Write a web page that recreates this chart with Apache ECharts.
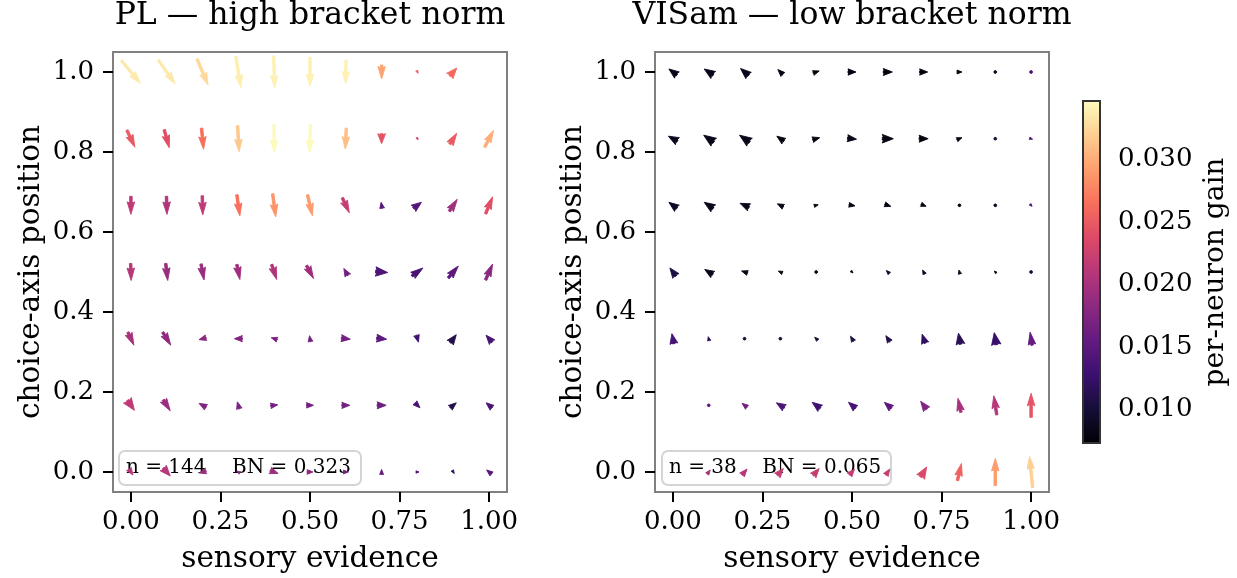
<!DOCTYPE html>
<html>
<head>
<meta charset="utf-8">
<script src="https://cdn.jsdelivr.net/npm/echarts@6/dist/echarts.min.js"></script>
<style>html,body{margin:0;padding:0;background:#fff}#c{width:1237px;height:578px}</style>
</head>
<body>
<div id="c"></div>
<script>
// ---------------- data ----------------
const sensoryEvidence = [0, 0.1, 0.2, 0.3, 0.4, 0.5, 0.6, 0.7, 0.8, 0.9, 1.0];
// rows listed top to bottom
const choicePosition = [1.0, 0.8333, 0.6667, 0.5, 0.3333, 0.1667, 0.0];

const xTicks = [0, 0.25, 0.5, 0.75, 1.0];
const yTicks = [0, 0.2, 0.4, 0.6, 0.8, 1.0];
const gainTicks = [0.010, 0.015, 0.020, 0.025, 0.030];
const gainMin = 0.0073, gainMax = 0.0347;

const panelTitles = ['PL — high bracket norm', 'VISam — low bracket norm'];
const panelN = [144, 38];
const panelBN = ['0.323', '0.065'];

// PL panel: vector components (u right, v up) and per-neuron gain
const plU = [
  [19, 17, 11, 5, 1, 0, -0.5, 0, 1.5, 7, null],
  [8, 5, 2, 1.5, 0, -1, -1, 0, 1.5, 7, 9],
  [0, 0.5, 0.5, 3, 3, 5, 7, -1, 8, 8, 7],
  [0.5, 2, 3, 3, 5, 7, -4, 12, 11, 10, 7],
  [6, 8, -7, -8, -6, -1, 9, 10, 2, 6, -6],
  [7, 7, -7, -2, 7, 7, 8, 9, 5, 6, -6],
  [4, 7, -7, -3, 8, 6, 5, 0, 3, 2, -5]
];
const plV = [
  [-23, -24, -26, -31, -32, -29, -24, -14, -2.5, 8, null],
  [-17, -18, -21, -26, -28, -28, -21, -10, -2, 11, 17],
  [-18, -18, -19, -21, -23, -21, -15, 6, 6, 12, 17],
  [-17, -17, -16, -15, -15, -13, 7, -1, 8, 12, 16],
  [-13, -13, -2, 0, 2, 6, -1, -1, -7, 8, 7],
  [-10, -11, 4, 7, 1, 0, 0, 0, -5, 5, 5],
  [-6, -8, -2, 2, -3, 0, 0, 5, 0, -3, 4]
];
const plGain = [
  [0.0335, 0.0335, 0.0325, 0.0338, 0.034, 0.034, 0.034, 0.0295, 0.025, 0.026, null],
  [0.025, 0.024, 0.0265, 0.0315, 0.0345, 0.0345, 0.031, 0.0245, 0.023, 0.025, 0.030],
  [0.0215, 0.0205, 0.0215, 0.0265, 0.0285, 0.029, 0.022, 0.0145, 0.0145, 0.0195, 0.024],
  [0.021, 0.019, 0.019, 0.0195, 0.0205, 0.0195, 0.0165, 0.014, 0.0135, 0.015, 0.018],
  [0.020, 0.0185, 0.018, 0.0175, 0.017, 0.0165, 0.0165, 0.015, 0.013, 0.011, 0.0135],
  [0.0215, 0.019, 0.0175, 0.017, 0.0165, 0.0165, 0.0165, 0.016, 0.0135, 0.011, 0.0135],
  [0.021, 0.021, 0.019, 0.018, 0.019, 0.018, 0.017, 0.0155, 0.0135, 0.012, 0.0145]
];

// VISam panel
const visU = [
  [-8, -9, -8, -5, 6, 8, 9, 8, 5, 1, 1],
  [-9, -10, -10, -7, 7, 9, 11, 9, 5, -2, 3],
  [-8, -9, -9, -6, 4, 6, 6, 5, 2, 1, 2],
  [-6, -8, -6, -4, 1, 2, -3, -2, -1, -2, -2],
  [-2, -1, 1, 1, -3, -3, -4, -3, -2, -2, -2],
  [null, 1, -5, -8, -8, -7, -7, -6, -3, -3, 0],
  [null, 3, 5, 6, 6, 5, 4, 6, 4, 0, -3]
];
const visV = [
  [6, 6, 7, 5, 2, 0, 0, 0, 0, 0, 0],
  [5, 7, 7, 5, 2, -1, 0, 0, 2, 0, -1],
  [6, 6, 4, 3, 1, -1, -2, -2, 0, -1, -2],
  [8, 5, 2, 2, 0, -2, 3, 4, 4, 2, 1],
  [10, 4, 0, 0, 3, 5, 6, 9, 11, 12, 13],
  [null, 0, 4, 5, 6, 6, 6, 8, 14, 19, 24],
  [null, 4, 6, 7, 7, 6, 6, 10, 17, 27, 31]
];
const visGain = [
  [0.0085, 0.0085, 0.0085, 0.008, 0.0078, 0.0078, 0.0078, 0.0078, 0.008, 0.009, 0.013],
  [0.0085, 0.0085, 0.0085, 0.008, 0.0078, 0.0085, 0.008, 0.0078, 0.008, 0.010, 0.0135],
  [0.009, 0.0085, 0.0085, 0.008, 0.008, 0.008, 0.008, 0.008, 0.008, 0.009, 0.013],
  [0.0105, 0.0085, 0.008, 0.008, 0.008, 0.009, 0.009, 0.009, 0.009, 0.009, 0.0095],
  [0.0135, 0.012, 0.010, 0.010, 0.010, 0.0105, 0.011, 0.012, 0.0115, 0.0125, 0.0155],
  [null, 0.015, 0.0165, 0.014, 0.013, 0.0135, 0.015, 0.0175, 0.020, 0.021, 0.0245],
  [null, 0.020, 0.021, 0.022, 0.022, 0.022, 0.022, 0.0235, 0.0255, 0.029, 0.032]
];

// ---------------- styling / helpers ----------------
const FONT = 'DejaVu Serif';
const MAGMA = ['#000004', '#140e36', '#3b0f70', '#641a80', '#8c2981', '#b73779',
               '#de4968', '#f7705c', '#fe9f6d', '#fecf92', '#fcfdbf'];
const SHAFT_W = 2.5;       // arrow shaft width, px
const SHORT_HEAD_W = 1.3;  // extra head-width factor for short (head-only) arrows
const REF_PX = 357.5;      // px per x-unit at which u/v were read

function hexToRgb(h) { return [1, 3, 5].map(i => parseInt(h.substr(i, 2), 16)); }
const MAGMA_RGB = MAGMA.map(hexToRgb);
function magma(t) {
  t = Math.max(0, Math.min(1, t));
  const p = t * (MAGMA_RGB.length - 1);
  const i = Math.min(Math.floor(p), MAGMA_RGB.length - 2);
  const f = p - i;
  const a = MAGMA_RGB[i], b = MAGMA_RGB[i + 1];
  return 'rgb(' + a.map((v, k) => Math.round(v + (b[k] - v) * f)).join(',') + ')';
}
function gainColor(g) { return magma((g - gainMin) / (gainMax - gainMin)); }

function buildData(U, V, G) {
  const out = [];
  for (let r = 0; r < choicePosition.length; r++) {
    for (let c = 0; c < sensoryEvidence.length; c++) {
      if (U[r][c] == null) continue;
      out.push([sensoryEvidence[c], choicePosition[r], U[r][c], V[r][c], G[r][c]]);
    }
  }
  return out;
}

function renderArrow(params, api) {
  const x = api.value(0), y = api.value(1), u = api.value(2), v = api.value(3), g = api.value(4);
  const c = api.coord([x, y]);
  const k = api.size([1, 0])[0] / REF_PX;
  const dx = u * k, dy = -v * k;
  const Lpx = Math.hypot(dx, dy);
  const L = Lpx / SHAFT_W;
  const cs = Lpx > 0 ? dx / Lpx : 1, sn = Lpx > 0 ? dy / Lpx : 0;
  let pts;
  if (L < 1) {
    pts = [];
    for (let i = 0; i < 6; i++) { const a = i * Math.PI / 3; pts.push([0.6 * Math.cos(a), 0.6 * Math.sin(a)]); }
  } else if (L < 5) {
    const s = L / 5;
    pts = [[0, 0.5], [0.5, 0.5], [0, 1.5], [5, 0], [0, -1.5], [0.5, -0.5], [0, -0.5]]
      .map(p => [p[0] * s - L / 2, p[1] * s * SHORT_HEAD_W]);
  } else {
    pts = [[0, 0.5], [L - 4.5, 0.5], [L - 5, 1.5], [L, 0], [L - 5, -1.5], [L - 4.5, -0.5], [0, -0.5]]
      .map(p => [p[0] - L / 2, p[1]]);
  }
  const points = pts.map(p => [c[0] + SHAFT_W * (p[0] * cs - p[1] * sn),
                               c[1] + SHAFT_W * (p[0] * sn + p[1] * cs)]);
  const col = gainColor(g);
  return { type: 'polygon', shape: { points }, style: { fill: col, stroke: col, lineWidth: 0.9, lineJoin: 'miter' } };
}

function renderColorbar(params, api) {
  const p0 = api.coord([0, gainMax]), p1 = api.coord([1, gainMin]);
  const stops = MAGMA.map((col, i) => ({ offset: i / (MAGMA.length - 1), color: col }));
  return {
    type: 'rect',
    shape: { x: p0[0], y: p0[1], width: p1[0] - p0[0], height: p1[1] - p0[1] },
    style: { fill: new echarts.graphic.LinearGradient(0, 1, 0, 0, stops), stroke: '#333', lineWidth: 2 }
  };
}

const tickStyle = { show: true, length: 10, lineStyle: { color: '#000', width: 2 } };
const labelBase = { fontFamily: FONT, fontSize: 26, color: '#000' };
const axisLineStyle = { show: true, onZero: false, lineStyle: { color: '#808080', width: 2 } };

function xAxisFor(gi) {
  return {
    gridIndex: gi, type: 'value', min: -0.05, max: 1.05,
    name: 'sensory evidence', nameLocation: 'middle', nameGap: 52,
    nameTextStyle: { fontFamily: FONT, fontSize: 29.5, color: '#000' },
    axisLine: axisLineStyle,
    splitLine: { show: false },
    axisTick: Object.assign({ customValues: xTicks }, tickStyle),
    axisLabel: Object.assign({ customValues: xTicks, formatter: v => v.toFixed(2), margin: 17 }, labelBase)
  };
}
function yAxisFor(gi) {
  return {
    gridIndex: gi, type: 'value', min: -0.05, max: 1.05,
    name: 'choice-axis position', nameLocation: 'middle', nameGap: 67,
    nameTextStyle: { fontFamily: FONT, fontSize: 29.5, color: '#000' },
    axisLine: axisLineStyle,
    splitLine: { show: false },
    axisTick: Object.assign({ customValues: yTicks }, tickStyle),
    axisLabel: Object.assign({ customValues: yTicks, formatter: v => v.toFixed(1), margin: 19 }, labelBase)
  };
}

const gridBase = { containLabel: false, outerBoundsMode: 'none' };
const grids = [
  Object.assign({ left: 113, top: 52, width: 394, height: 440, show: true, borderColor: '#808080', borderWidth: 2 }, gridBase),
  Object.assign({ left: 655, top: 52, width: 394, height: 440, show: true, borderColor: '#808080', borderWidth: 2 }, gridBase),
  Object.assign({ left: 1083, top: 101, width: 17, height: 342 }, gridBase)
];

function legendBox(x0, w, text) {
  return {
    type: 'group', z: 100, x: x0, y: 451,
    children: [
      { type: 'rect', shape: { x: 0, y: 0, width: w, height: 34, r: 6 }, style: { fill: 'rgba(255,255,255,0.8)', stroke: 'rgba(204,204,204,0.85)', lineWidth: 2 } },
      { type: 'text', x: 7, y: 17, style: { text: text, font: '20px "DejaVu Serif"', fill: '#000', verticalAlign: 'middle', align: 'left' } }
    ]
  };
}

const chart = echarts.init(document.getElementById('c'), null, { renderer: 'canvas' });

const legendTexts = [0, 1].map(i => 'n = ' + panelN[i] + '    BN = ' + panelBN[i]);

chart.setOption({
  animation: false,
  backgroundColor: '#fff',
  grid: grids,
  xAxis: [xAxisFor(0), xAxisFor(1), { gridIndex: 2, type: 'value', min: 0, max: 1, show: false }],
  yAxis: [yAxisFor(0), yAxisFor(1), {
    gridIndex: 2, type: 'value', position: 'right', min: gainMin, max: gainMax,
    axisLine: { show: false }, splitLine: { show: false },
    axisTick: Object.assign({ customValues: gainTicks }, tickStyle),
    axisLabel: Object.assign({ customValues: gainTicks, formatter: v => v.toFixed(3), margin: 18 }, labelBase)
  }],
  graphic: [
    { type: 'text', x: 310, y: 0, z: 100, style: { text: panelTitles[0], font: '31.5px "DejaVu Serif"', fill: '#000', align: 'center', verticalAlign: 'top' } },
    { type: 'text', x: 852, y: 0, z: 100, style: { text: panelTitles[1], font: '31.5px "DejaVu Serif"', fill: '#000', align: 'center', verticalAlign: 'top' } },
    { type: 'text', x: 1216, y: 272, z: 100, rotation: Math.PI / 2, style: { text: 'per-neuron gain', font: '28px "DejaVu Serif"', fill: '#000', align: 'center', verticalAlign: 'middle' } },
    legendBox(119, 242, legendTexts[0]),
    legendBox(662, 229, legendTexts[1])
  ],
  series: [
    { type: 'custom', xAxisIndex: 0, yAxisIndex: 0, renderItem: renderArrow, data: buildData(plU, plV, plGain), silent: true, z: 5 },
    { type: 'custom', xAxisIndex: 1, yAxisIndex: 1, renderItem: renderArrow, data: buildData(visU, visV, visGain), silent: true, z: 5 },
    { type: 'custom', xAxisIndex: 2, yAxisIndex: 2, renderItem: renderColorbar, data: [[0, gainMin]], silent: true, z: 5 }
  ]
});
</script>
</body>
</html>
